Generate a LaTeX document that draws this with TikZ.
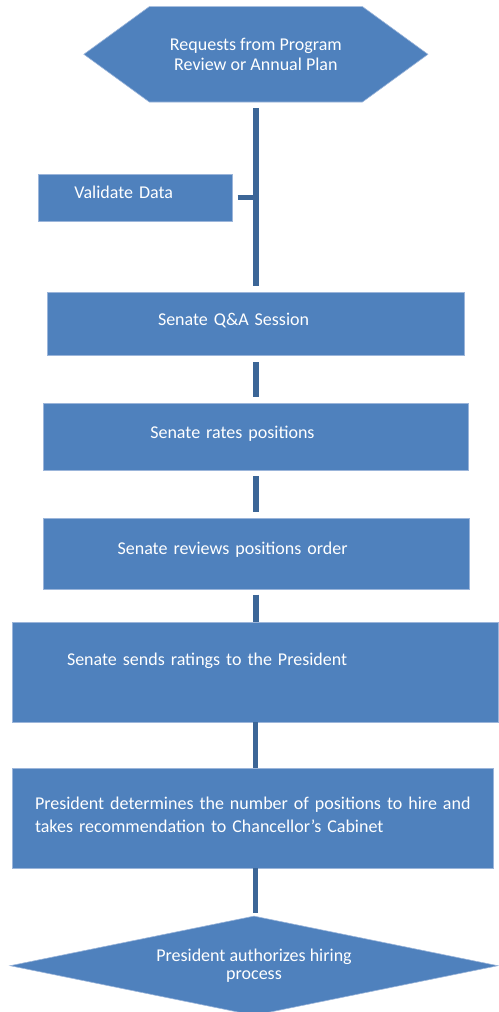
\documentclass[tikz,border=0pt]{standalone}
\usepackage{fontspec}
\setmainfont{Carlito}
\usetikzlibrary{shapes.geometric,backgrounds}

\definecolor{boxfill}{HTML}{4F81BD}
\definecolor{boxline}{HTML}{9BB5DA}
\definecolor{linkcol}{HTML}{3C6697}

\tikzset{
  box/.style={rectangle, draw=boxline, line width=0.6pt, fill=boxfill, text=white, align=left, inner ysep=0pt, anchor=north west},
  link/.style={draw=linkcol, line width=5.6pt}
}

\begin{document}
\begin{tikzpicture}[x=1pt, y=-1pt, font=\fontsize{18}{22}\selectfont]
\useasboundingbox (0,0) rectangle (498,1012);

\node [rectangle, text=white, align=center, inner sep=0pt, minimum width=343.7pt, minimum height=95pt, font=\fontsize{18}{20}\selectfont] (req) at (255.9,54.3) {Requests from Program\\Review or Annual Plan};
\begin{scope}[on background layer]
\filldraw [draw=boxline, line width=0.6pt, fill=boxfill] (req.west) -- ([xshift=65.5pt]req.north west) -- ([xshift=-65.5pt]req.north east) -- (req.east) -- ([xshift=-65.5pt]req.south east) -- ([xshift=65.5pt]req.south west) -- cycle;
\end{scope}

\node [box, inner xsep=36pt, text width=122pt, text height=24.3pt, text depth=22.7pt] (val) at (38,173.7) {Validate Data};
\node [box, inner xsep=110.7pt, text width=195.6pt, text height=33.3pt, text depth=30.3pt] (qa) at (47,291.7) {Senate Q\&A Session};
\node [box, inner xsep=106.7pt, text width=211.3pt, text height=35pt, text depth=31.7pt] (rates) at (43.3,403.3) {Senate rates positions};
\node [box, inner xsep=74.6pt, text width=276.8pt, text height=36.3pt, text depth=34.7pt] (reviews) at (42.7,517.7) {Senate reviews positions order};
\node [box, inner xsep=54.7pt, text width=376.6pt, text height=43.3pt, text depth=56.7pt] (sends) at (12,621.7) {Senate sends ratings to the President};
\node [box, inner xsep=22.7pt, text width=435.3pt, text height=41pt, text depth=58.7pt, font=\fontsize{18}{22.7}\selectfont] (pres) at (12,768) {\mbox{President determines the number of positions to hire and}\\takes recommendation to Chancellor’s Cabinet};

\node [diamond, aspect=4.9, draw=boxline, line width=0.6pt, fill=boxfill, text=white, align=center, inner sep=0pt, minimum width=488pt, minimum height=99.4pt, font=\fontsize{18}{18.4}\selectfont] (auth) at (254,965.7) {\raisebox{-3pt}{President authorizes hiring}\\\raisebox{-3pt}{process}};

\draw [link, shorten <=6pt, shorten >=5.7pt] (req.south) -- (req.south |- qa.north);
\draw [link, shorten <=5pt] (val.east) -- (val.east -| req.south);
\draw [link, shorten <=6.4pt, shorten >=6pt] (qa.south) -- (qa.south |- rates.north);
\draw [link, shorten <=5.7pt, shorten >=5.4pt] (rates.south) -- (rates.south |- reviews.north);
\draw [link, shorten <=5.3pt] (reviews.south) -- (reviews.south |- sends.north);
\draw [link] (sends.south) -- (sends.south |- pres.north);
\draw [link, shorten >=2.7pt] (pres.south -| sends.south) -- (sends.south |- auth.north);

\end{tikzpicture}
\end{document}
